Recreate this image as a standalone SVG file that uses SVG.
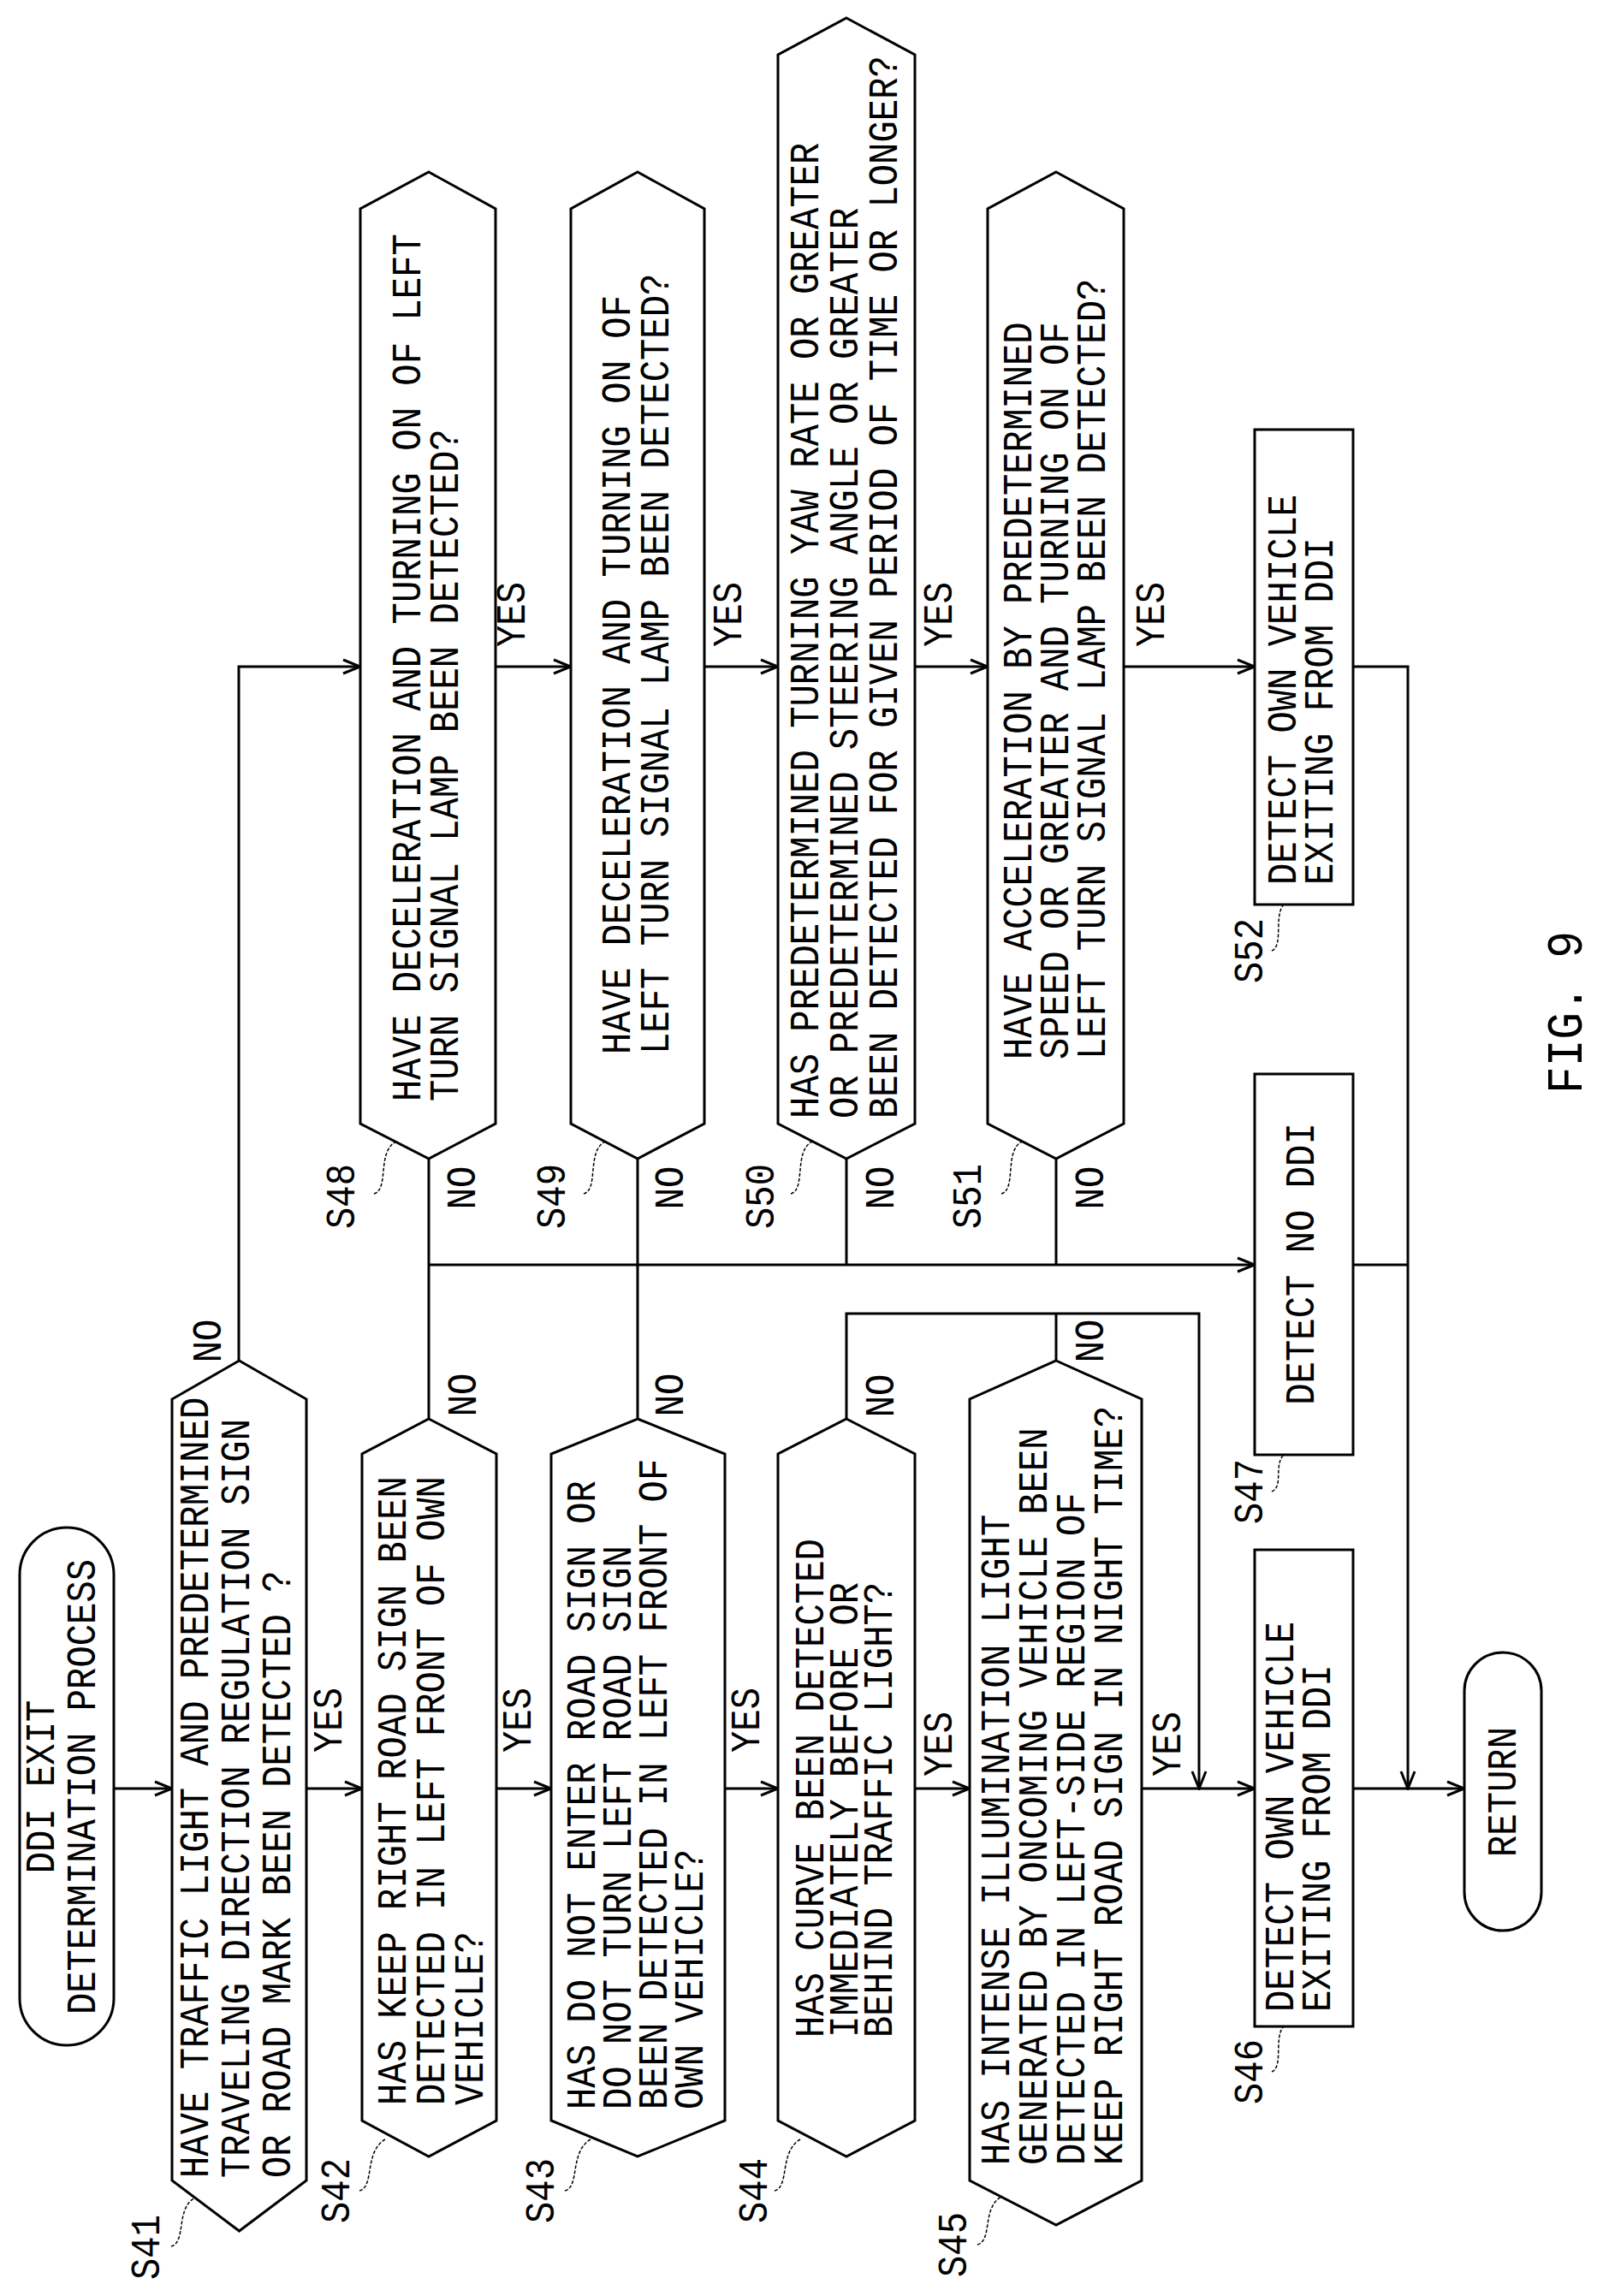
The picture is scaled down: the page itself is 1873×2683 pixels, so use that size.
<svg xmlns="http://www.w3.org/2000/svg" width="1873" height="2683" viewBox="0 0 1873 2683">
<style>
.s{fill:#fff;stroke:#000;stroke-width:3}
.c{fill:none;stroke:#000;stroke-width:3}
.l{fill:none;stroke:#000;stroke-width:1.5;stroke-dasharray:4 2}
text{font-family:"Liberation Mono","DejaVu Sans Mono",monospace;font-size:48px;fill:#000}
.m{text-anchor:middle}
</style>
<defs>
<marker id="a" markerUnits="userSpaceOnUse" markerWidth="24" markerHeight="24" refX="22" refY="10" orient="auto" viewBox="0 0 24 20">
<path d="M2,2 L22,10 L2,18" fill="none" stroke="#000" stroke-width="3"/>
</marker>
</defs>
<rect width="1873" height="2683" fill="#fff"/>
<g id="connectors">
<path class="c" marker-end="url(#a)" d="M133,2090 H201"/>
<path class="c" marker-end="url(#a)" d="M358,2090 H423"/>
<path class="c" marker-end="url(#a)" d="M580,2090 H644"/>
<path class="c" marker-end="url(#a)" d="M847,2090 H909"/>
<path class="c" marker-end="url(#a)" d="M1069,2090 H1133"/>
<path class="c" marker-end="url(#a)" d="M1334,2090 H1466"/>
<path class="c" marker-end="url(#a)" d="M1581,2090 H1711"/>
<path class="c" marker-end="url(#a)" d="M279,1590 V779 H421"/>
<path class="c" marker-end="url(#a)" d="M579,779 H667"/>
<path class="c" marker-end="url(#a)" d="M823,779 H909"/>
<path class="c" marker-end="url(#a)" d="M1069,779 H1154"/>
<path class="c" marker-end="url(#a)" d="M1313,779 H1466"/>
<path class="c" marker-end="url(#a)" d="M1581,779 H1645 V2090"/>
<path class="c" d="M501,1354 V1658 M745,1354 V1658 M989,1354 V1478 M1234,1354 V1478 M1581,1478 H1645"/>
<path class="c" marker-end="url(#a)" d="M501,1478 H1466"/>
<path class="c" marker-end="url(#a)" d="M989,1658 V1535 H1401 V2090"/>
<path class="c" d="M1234,1590 V1535"/>
</g>
<g id="start"><rect class="s" x="23" y="1785" width="110" height="605" rx="55"/>
<text class="m" transform="translate(63,2088) rotate(-90) scale(0.88,1)"><tspan x="0">DDI EXIT</tspan><tspan x="0" dy="48">DETERMINATION PROCESS</tspan></text></g>
<g id="S41"><polygon class="s" points="279.5,1590 358,1635 358,2548 279.5,2607 201,2548 201,1635"/>
<text transform="translate(243,2545) rotate(-90) scale(0.88,1)"><tspan x="0">HAVE TRAFFIC LIGHT AND PREDETERMINED</tspan><tspan x="0" dy="48">TRAVELING DIRECTION REGULATION SIGN</tspan><tspan x="0" dy="48">OR ROAD MARK BEEN DETECTED ?</tspan></text></g>
<g id="S42"><polygon class="s" points="501,1658 580,1699 580,2478 501,2520 423,2478 423,1699"/>
<text transform="translate(474,2460) rotate(-90) scale(0.88,1)"><tspan x="0">HAS KEEP RIGHT ROAD SIGN BEEN</tspan><tspan x="0" dy="45">DETECTED IN LEFT FRONT OF OWN</tspan><tspan x="0" dy="45">VEHICLE?</tspan></text></g>
<g id="S43"><polygon class="s" points="745,1658 847,1699 847,2478 745,2520 644,2478 644,1699"/>
<text transform="translate(695,2465) rotate(-90) scale(0.88,1)"><tspan x="0">HAS DO NOT ENTER ROAD SIGN OR</tspan><tspan x="0" dy="42">DO NOT TURN LEFT ROAD SIGN</tspan><tspan x="0" dy="42">BEEN DETECTED IN LEFT FRONT OF</tspan><tspan x="0" dy="42">OWN VEHICLE?</tspan></text></g>
<g id="S44"><polygon class="s" points="989,1658 1069,1699 1069,2478 989,2520 909,2478 909,1699"/>
<text transform="translate(962,2381) rotate(-90) scale(0.88,1)"><tspan x="0">HAS CURVE BEEN DETECTED</tspan><tspan x="0" dy="40">IMMEDIATELY BEFORE OR</tspan><tspan x="0" dy="40">BEHIND TRAFFIC LIGHT?</tspan></text></g>
<g id="S45"><polygon class="s" points="1234,1590 1334,1635 1334,2548 1234,2600 1133,2548 1133,1635"/>
<text transform="translate(1179,2530) rotate(-90) scale(0.88,1)"><tspan x="0">HAS INTENSE ILLUMINATION LIGHT</tspan><tspan x="0" dy="44">GENERATED BY ONCOMING VEHICLE BEEN</tspan><tspan x="0" dy="44">DETECTED IN LEFT-SIDE REGION OF</tspan><tspan x="0" dy="44">KEEP RIGHT ROAD SIGN IN NIGHT TIME?</tspan></text></g>
<g id="S46"><rect class="s" x="1466" y="1811" width="115" height="557"/>
<text transform="translate(1511,2351) rotate(-90) scale(0.88,1)"><tspan x="0">DETECT OWN VEHICLE</tspan><tspan x="0" dy="43">EXITING FROM DDI</tspan></text></g>
<g id="S47"><rect class="s" x="1466" y="1255" width="115" height="445"/>
<text class="m" transform="translate(1535,1477) rotate(-90) scale(0.88,1)">DETECT NO DDI</text></g>
<g id="S48"><polygon class="s" points="501,201 579,244 579,1313 501,1354 421,1313 421,244"/>
<text transform="translate(491,1287) rotate(-90) scale(0.88,1)"><tspan x="0">HAVE DECELERATION AND TURNING ON OF LEFT</tspan><tspan x="0" dy="44">TURN SIGNAL LAMP BEEN DETECTED?</tspan></text></g>
<g id="S49"><polygon class="s" points="745,201 823,244 823,1313 745,1354 667,1313 667,244"/>
<text transform="translate(736,1232) rotate(-90) scale(0.88,1)"><tspan x="0">HAVE DECELERATION AND TURNING ON OF</tspan><tspan x="0" dy="45">LEFT TURN SIGNAL LAMP BEEN DETECTED?</tspan></text></g>
<g id="S50"><polygon class="s" points="989,21 1069,64 1069,1313 989,1354 909,1313 909,64"/>
<text transform="translate(956,1307) rotate(-90) scale(0.88,1)"><tspan x="0">HAS PREDETERMINED TURNING YAW RATE OR GREATER</tspan><tspan x="0" dy="46">OR PREDETERMINED STEERING ANGLE OR GREATER</tspan><tspan x="0" dy="46">BEEN DETECTED FOR GIVEN PERIOD OF TIME OR LONGER?</tspan></text></g>
<g id="S51"><polygon class="s" points="1234,201 1313,244 1313,1313 1234,1354 1154,1313 1154,244"/>
<text transform="translate(1205,1238) rotate(-90) scale(0.88,1)"><tspan x="0">HAVE ACCELERATION BY PREDETERMINED</tspan><tspan x="0" dy="43">SPEED OR GREATER AND TURNING ON OF</tspan><tspan x="0" dy="43">LEFT TURN SIGNAL LAMP BEEN DETECTED?</tspan></text></g>
<g id="S52"><rect class="s" x="1466" y="502" width="115" height="555"/>
<text transform="translate(1514,1034) rotate(-90) scale(0.88,1)"><tspan x="0">DETECT OWN VEHICLE</tspan><tspan x="0" dy="43">EXITING FROM DDI</tspan></text></g>
<g id="return"><rect class="s" x="1711" y="1931" width="90" height="325" rx="45"/>
<text class="m" transform="translate(1771,2094) rotate(-90) scale(0.88,1)">RETURN</text></g>
<g id="branch-labels">
<text class="m" transform="translate(399,2010) rotate(-90) scale(0.88,1)">YES</text>
<text class="m" transform="translate(620,2010) rotate(-90) scale(0.88,1)">YES</text>
<text class="m" transform="translate(887,2010) rotate(-90) scale(0.88,1)">YES</text>
<text class="m" transform="translate(1112,2038) rotate(-90) scale(0.88,1)">YES</text>
<text class="m" transform="translate(1379,2038) rotate(-90) scale(0.88,1)">YES</text>
<text class="m" transform="translate(613,718) rotate(-90) scale(0.88,1)">YES</text>
<text class="m" transform="translate(866,718) rotate(-90) scale(0.88,1)">YES</text>
<text class="m" transform="translate(1112,718) rotate(-90) scale(0.88,1)">YES</text>
<text class="m" transform="translate(1360,718) rotate(-90) scale(0.88,1)">YES</text>
<text class="m" transform="translate(258,1567) rotate(-90) scale(0.88,1)">NO</text>
<text class="m" transform="translate(556,1630) rotate(-90) scale(0.88,1)">NO</text>
<text class="m" transform="translate(798,1630) rotate(-90) scale(0.88,1)">NO</text>
<text class="m" transform="translate(1044,1631) rotate(-90) scale(0.88,1)">NO</text>
<text class="m" transform="translate(1289,1567) rotate(-90) scale(0.88,1)">NO</text>
<text class="m" transform="translate(555,1388) rotate(-90) scale(0.88,1)">NO</text>
<text class="m" transform="translate(798,1388) rotate(-90) scale(0.88,1)">NO</text>
<text class="m" transform="translate(1044,1388) rotate(-90) scale(0.88,1)">NO</text>
<text class="m" transform="translate(1289,1388) rotate(-90) scale(0.88,1)">NO</text>
</g>
<g id="step-labels">
<text class="m" transform="translate(186,2626) rotate(-90) scale(0.88,1)">S41</text>
<text class="m" transform="translate(408,2560) rotate(-90) scale(0.88,1)">S42</text>
<text class="m" transform="translate(647,2560) rotate(-90) scale(0.88,1)">S43</text>
<text class="m" transform="translate(896,2560) rotate(-90) scale(0.88,1)">S44</text>
<text class="m" transform="translate(1129,2623) rotate(-90) scale(0.88,1)">S45</text>
<text class="m" transform="translate(1475,2421) rotate(-90) scale(0.88,1)">S46</text>
<text class="m" transform="translate(1475,1743) rotate(-90) scale(0.88,1)">S47</text>
<text class="m" transform="translate(1475,1111) rotate(-90) scale(0.88,1)">S52</text>
<text class="m" transform="translate(414,1398) rotate(-90) scale(0.88,1)">S48</text>
<text class="m" transform="translate(660,1398) rotate(-90) scale(0.88,1)">S49</text>
<text class="m" transform="translate(904,1398) rotate(-90) scale(0.88,1)">S50</text>
<text class="m" transform="translate(1146,1398) rotate(-90) scale(0.88,1)">S51</text>
<path class="l" d="M200,2625 C218,2620 205,2580 228,2568"/>
<path class="l" d="M420,2560 C438,2555 425,2515 450,2500"/>
<path class="l" d="M660,2560 C678,2555 665,2515 690,2500"/>
<path class="l" d="M905,2560 C923,2555 910,2515 935,2500"/>
<path class="l" d="M1142,2623 C1160,2618 1147,2580 1170,2567"/>
<path class="l" d="M1486,2421 C1500,2415 1488,2380 1500,2368"/>
<path class="l" d="M1486,1743 C1500,1737 1488,1712 1500,1700"/>
<path class="l" d="M1486,1111 C1500,1105 1488,1070 1500,1057"/>
<path class="l" d="M437,1395 C455,1390 440,1345 463,1334"/>
<path class="l" d="M682,1395 C700,1390 685,1345 707,1334"/>
<path class="l" d="M924,1395 C942,1390 927,1345 949,1334"/>
<path class="l" d="M1170,1395 C1188,1390 1173,1345 1194,1334"/>
</g>
<text class="m" style="font-size:60px" transform="translate(1848,1183) rotate(-90) scale(0.88,1)">FIG. 9</text>
</svg>
